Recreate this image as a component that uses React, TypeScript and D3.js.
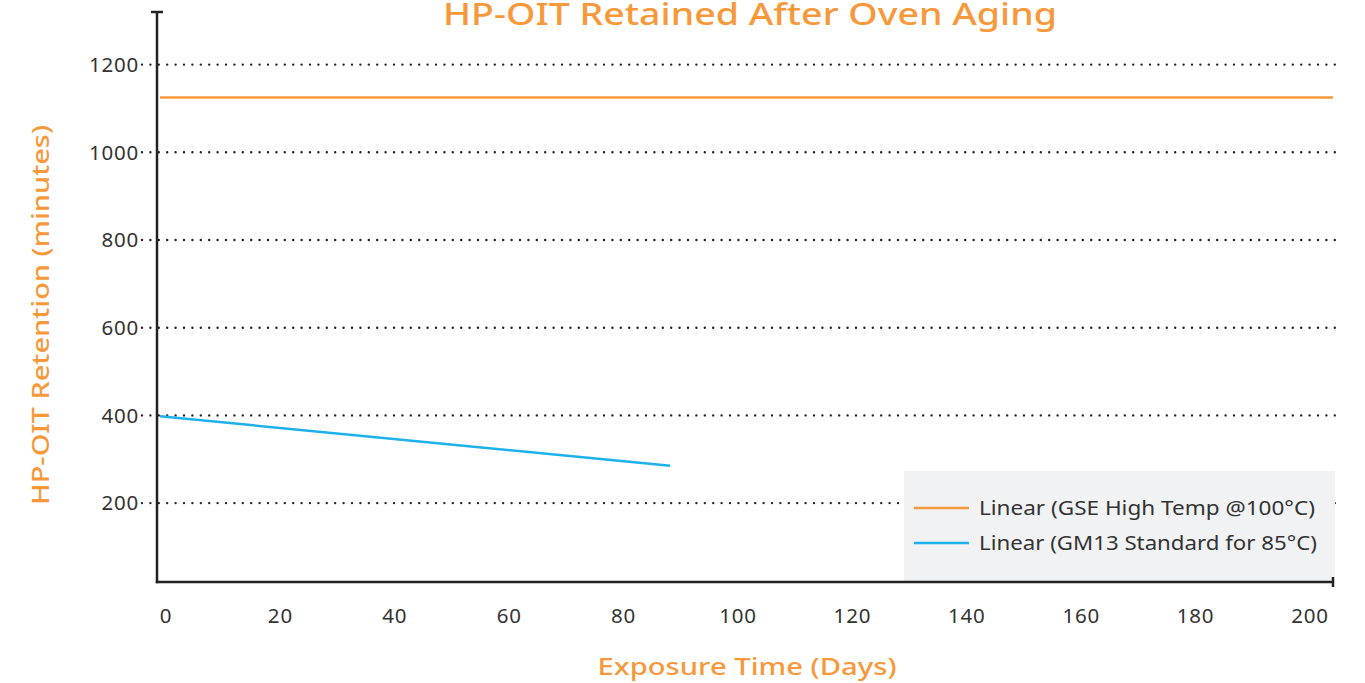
import React, { useEffect, useRef } from 'react';
import * as d3 from 'd3';

// values
const yTicks = [200, 400, 600, 800, 1000, 1200];
const xTicks = [0, 20, 40, 60, 80, 100, 120, 140, 160, 180, 200];
const gseHighTemp = [
  { day: 0, oit: 1125 },
  { day: 200, oit: 1125 },
];
const gm13Standard = [
  { day: 0, oit: 398 },
  { day: 87, oit: 285 },
];
const legendItems = ['Linear (GSE High Temp @100°C)', 'Linear (GM13 Standard for 85°C)'];

const ORANGE = '#f7993b';
const BLUE = '#1db1ec';
const FONT = '"Noto Sans", "Open Sans", sans-serif';

const App = () => {
  const svgRef = useRef<SVGSVGElement>(null);

  useEffect(() => {
    const svg = d3.select(svgRef.current);
    svg.selectAll('*').remove();

    const width = 1365;
    const height = 683;
    const left = 157;
    const right = 1333;
    const top = 12;
    const bottom = 582;

    const x = d3.scaleLinear().domain([0, 200]).range([160, right]);
    const xLabel = d3.scaleLinear().domain([0, 200]).range([166, 1310]);
    const y = d3.scaleLinear().domain([20, 1320]).range([bottom, top]);

    svg.attr('width', width).attr('height', height);

    // dotted grid lines
    svg.append('g')
      .selectAll('line')
      .data(yTicks)
      .enter()
      .append('line')
      .attr('x1', 142)
      .attr('x2', 1336)
      .attr('y1', d => y(d))
      .attr('y2', d => y(d))
      .attr('stroke', '#222')
      .attr('stroke-width', 2.4)
      .attr('stroke-linecap', 'round')
      .attr('stroke-dasharray', '0 8.4');

    // y tick labels
    svg.append('g')
      .selectAll('text')
      .data(yTicks)
      .enter()
      .append('text')
      .attr('x', 139)
      .attr('y', d => y(d))
      .attr('dy', '0.36em')
      .attr('text-anchor', 'end')
      .attr('font-family', FONT)
      .attr('font-size', 20.5)
      .attr('letter-spacing', 0.8)
      .attr('fill', '#333')
      .text(d => d);

    // legend box (sits over the grid)
    const lg = svg.append('g');
    lg.append('rect')
      .attr('x', 904)
      .attr('y', 471)
      .attr('width', 431)
      .attr('height', bottom - 471)
      .attr('fill', '#f1f2f4');

    legendItems.forEach((label, i) => {
      const ly = 508 + i * 35;
      lg.append('line')
        .attr('x1', 914)
        .attr('x2', 969)
        .attr('y1', ly)
        .attr('y2', ly)
        .attr('stroke', i === 0 ? ORANGE : BLUE)
        .attr('stroke-width', 2.5);
      lg.append('text')
        .attr('x', 979)
        .attr('y', ly)
        .attr('dy', '0.36em')
        .attr('font-family', FONT)
        .attr('font-size', 19.5)
        .attr('textLength', i === 0 ? 336 : 338)
        .attr('lengthAdjust', 'spacingAndGlyphs')
        .attr('fill', '#333')
        .text(label);
    });

    // series lines
    const line = d3.line<{ day: number; oit: number }>()
      .x(d => x(d.day))
      .y(d => y(d.oit));

    svg.append('path')
      .datum(gseHighTemp)
      .attr('fill', 'none')
      .attr('stroke', ORANGE)
      .attr('stroke-width', 2.5)
      .attr('d', line);

    svg.append('path')
      .datum(gm13Standard)
      .attr('fill', 'none')
      .attr('stroke', BLUE)
      .attr('stroke-width', 2.5)
      .attr('d', line);

    // axes
    const axis = svg.append('g').attr('stroke', '#222').attr('stroke-width', 2.5);
    axis.append('line').attr('x1', left).attr('x2', left).attr('y1', top).attr('y2', bottom + 1.2);
    axis.append('line').attr('x1', left - 6).attr('x2', left + 6).attr('y1', top).attr('y2', top);
    axis.append('line').attr('x1', left - 1.2).attr('x2', right).attr('y1', bottom).attr('y2', bottom);
    axis.append('line').attr('x1', right).attr('x2', right).attr('y1', bottom - 5).attr('y2', bottom + 5);

    // x tick labels
    svg.append('g')
      .selectAll('text')
      .data(xTicks)
      .enter()
      .append('text')
      .attr('x', d => xLabel(d))
      .attr('y', 623)
      .attr('text-anchor', 'middle')
      .attr('font-family', FONT)
      .attr('font-size', 20.5)
      .attr('letter-spacing', 0.8)
      .attr('fill', '#333')
      .text(d => d);

    // titles
    svg.append('text')
      .attr('x', 750)
      .attr('y', 25)
      .attr('text-anchor', 'middle')
      .attr('font-family', FONT)
      .attr('font-size', 31)
      .attr('font-weight', 500)
      .attr('textLength', 614)
      .attr('lengthAdjust', 'spacingAndGlyphs')
      .attr('fill', ORANGE)
      .text('HP-OIT Retained After Oven Aging');

    svg.append('text')
      .attr('x', 747)
      .attr('y', 675)
      .attr('text-anchor', 'middle')
      .attr('font-family', FONT)
      .attr('font-size', 24)
      .attr('font-weight', 500)
      .attr('textLength', 299)
      .attr('lengthAdjust', 'spacingAndGlyphs')
      .attr('fill', ORANGE)
      .text('Exposure Time (Days)');

    svg.append('text')
      .attr('transform', 'translate(49, 315) rotate(-90)')
      .attr('text-anchor', 'middle')
      .attr('font-family', FONT)
      .attr('font-size', 24)
      .attr('font-weight', 500)
      .attr('textLength', 380)
      .attr('lengthAdjust', 'spacingAndGlyphs')
      .attr('fill', ORANGE)
      .text('HP-OIT Retention (minutes)');
  }, []);

  return (
    <div style={{ position: 'absolute', left: 0, top: 0, width: 1365, height: 683 }}>
      <svg ref={svgRef} style={{ display: 'block' }}></svg>
    </div>
  );
};

export default App;
